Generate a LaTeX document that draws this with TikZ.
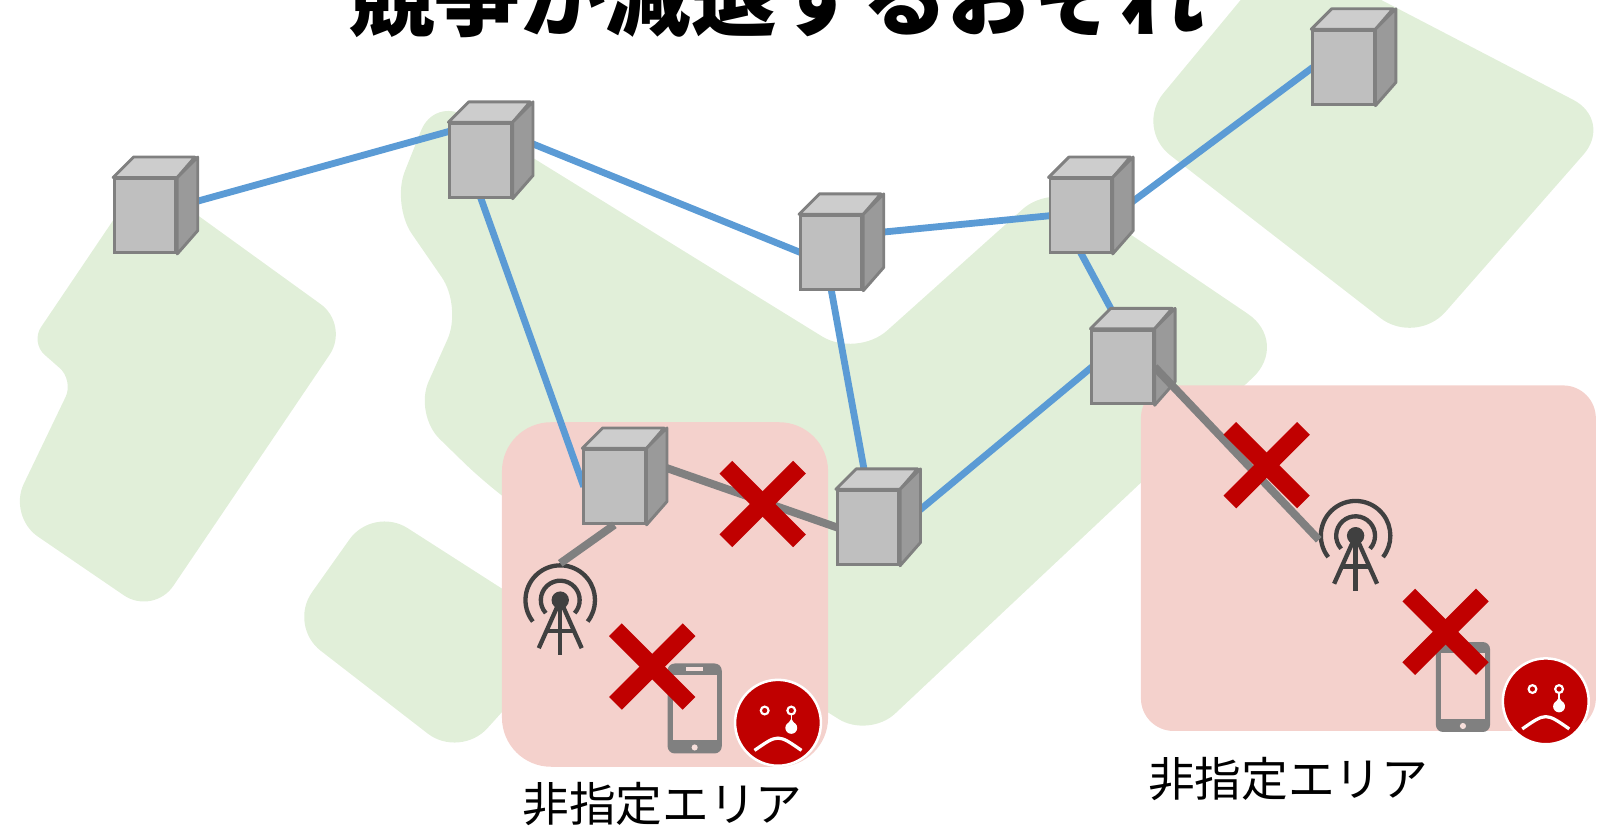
\documentclass[tikz,border=0pt]{standalone}
\usepackage{fontspec}
\newfontfamily\jpfont{Noto Sans CJK JP}
\usetikzlibrary{calc}

\definecolor{landgreen}{HTML}{E1EFD9}
\definecolor{areapink}{HTML}{F4D1CC}
\definecolor{fiberblue}{HTML}{5B9BD5}
\definecolor{lostred}{HTML}{C00000}
\definecolor{wiregray}{HTML}{808080}
\definecolor{icongray}{HTML}{404040}
\definecolor{cubefront}{HTML}{BFBFBF}
\definecolor{cubetop}{HTML}{CDCDCD}
\definecolor{cubeside}{HTML}{9A9A9A}

% relay station drawn as a small box
\newcommand{\station}[2]{%
  \node[stface] (#1) at (#2) {};
  \filldraw[sttop] (#1.north west) -- ++(20,-20) -- ++(60,0) -- (#1.north east) -- cycle;
  \filldraw[stside] (#1.north east) -- ++(20,-20) -- ++(0,72) -- (#1.south east) -- cycle;
}
% base station mast
\newcommand{\tower}[2]{%
  \coordinate (#1) at (#2);
  \draw[mast] ([shift={(138:19)}]#1) arc[start angle=138, end angle=402, radius=19];
  \draw[mast] ([shift={(142:34)}]#1) arc[start angle=142, end angle=398, radius=34];
  \draw[mast] (#1) -- ++(0,54);
  \draw[mast] ($(#1)+(-21,47)$) -- (#1) -- ($(#1)+(21,47)$);
  \draw[mast] ($(#1)+(-13,30)$) -- ($(#1)+(13,30)$);
  \fill[icongray] (#1) circle[radius=8.5];
}
% handset
\newcommand{\handset}[2]{%
  \node[phone] (#1) at (#2) {};
  \fill[areapink] ($(#1.north west)+(5,11)$) rectangle ($(#1.south east)+(-5,-13)$);
  \fill[areapink!70!white] ($(#1.north)+(-8,4)$) rectangle ($(#1.north)+(8,7)$);
  \fill[areapink!70!white] ($(#1.south)+(0,-6)$) circle[radius=3];
}
% red cross
\newcommand{\nogo}[2]{%
  \coordinate (#1) at (#2);
  \draw[xmark] ($(#1)+(-36,-36)$) -- ($(#1)+(36,36)$);
  \draw[xmark] ($(#1)+(-36,36)$) -- ($(#1)+(36,-36)$);
}
% crying face
\newcommand{\sadface}[2]{%
  \node[face] (#1) at (#2) {};
  \filldraw[eye] ($(#1)+(-13,-12)$) circle[radius=3.8];
  \filldraw[eye] ($(#1)+(13,-12)$) circle[radius=3.8];
  \draw[white, line width=2pt] ($(#1)+(13,-8)$) -- ($(#1)+(13,-2)$);
  \fill[white] ($(#1)+(13,-4)$) -- ($(#1)+(8,3.5)$) -- ($(#1)+(18,3.5)$) -- cycle;
  \fill[white] ($(#1)+(13,5)$) circle[radius=5.8];
  \draw[white, line width=4.5pt] ($(#1)+(-23,27)$) .. controls ($(#1)+(0,11)$) .. ($(#1)+(23,27)$);
}

\begin{document}
\begin{tikzpicture}
[
    x=0.05cm, y=-0.05cm,
    stface/.style={rectangle, draw=wiregray, fill=cubefront, line width=4pt,
                   minimum width=3cm, minimum height=3.6cm, inner sep=0pt},
    sttop/.style={draw=wiregray, fill=cubetop, line width=4pt, line join=round},
    stside/.style={draw=wiregray, fill=cubeside, line width=4pt, line join=round},
    fiber/.style={draw=fiberblue, line width=9.5pt},
    link/.style={draw=wiregray, line width=11pt},
    mast/.style={draw=icongray, line width=6pt},
    phone/.style={rectangle, fill=wiregray, rounded corners=0.35cm,
                  minimum width=2.65cm, minimum height=4.4cm, inner sep=0pt},
    xmark/.style={draw=lostred, line width=25pt},
    face/.style={circle, fill=lostred, draw=white, line width=3.5pt,
                 minimum size=4.2cm, inner sep=0pt},
    eye/.style={fill=lostred, draw=white, line width=3pt},
    label/.style={font=\jpfont\fontsize{65}{66}\selectfont, anchor=base},
]
\clip (0,0) rectangle (1568,808);

% land
\fill[landgreen, rounded corners=1.75cm] (140,172) -- (342,318) -- (150,602) -- (8,505)
    [rounded corners=0.9cm] -- (72,372) -- (30,335) -- cycle;
\fill[landgreen, rounded corners=2cm] (425,95) -- (838,350) -- (1030,178)
    [rounded corners=2.5cm] -- (1262,335) [rounded corners=1.75cm] -- (850,722)
    -- (640,590) -- (480,478) -- (405,405) -- (452,300) -- (383,200) -- cycle;
\fill[landgreen, rounded corners=2.2cm] (1255,-50) -- (1578,118) -- (1385,338) -- (1110,125) -- cycle;
\fill[landgreen, rounded corners=2cm] (365,495) -- (560,620) -- (450,742) -- (282,612) -- cycle;

% undesignated areas
\fill[areapink, rounded corners=2.4cm] (491,413) rectangle (810,750);
\fill[areapink, rounded corners=1.6cm] (1116,377) rectangle (1561,715);

\coordinate (A) at (142,211);
\coordinate (B) at (470,157);
\coordinate (C) at (813,247);
\coordinate (D) at (1057,211);
\coordinate (E) at (1314,66);
\coordinate (F) at (1098,359);
\coordinate (G) at (601,476);
\coordinate (H) at (849,516);

% backbone
\path[fiber] (A) -- (470,120) -- (783,247);
\path[fiber] (470,193) -- (571,476);
\path[fiber] (813,232) -- (1027,211);
\path[fiber] (1057,235) -- (1284,66);
\path[fiber] (813,283) -- (849,480);
\path[fiber] (1057,247) -- (1098,323);
\path[fiber] (1068,359) -- (849,541);
\path[link] (601,440) -- (819,516);

\station{sA}{A}
\station{sB}{B}
\station{sC}{C}
\station{sD}{D}
\station{sE}{E}
\station{sF}{F}
\station{sG}{G}
\station{sH}{H}

\tower{ant1}{548,587}
\tower{ant2}{1326,524}
\path[link] (sG.south) -- ($(ant1)+(0,-36)$);
\path[link] (sF.east) -- ($(ant2)+(-36,4)$);

\handset{ph1}{679.5,693}
\handset{ph2}{1431,672}

\nogo{x1}{746,493}
\nogo{x2}{638,652}
\nogo{x3}{1239,455}
\nogo{x4}{1414,618}

\sadface{f1}{761,707}
\sadface{f2}{1512,686}

\node[label] (lbl1) at (648,804) {非指定エリア};
\node[label] (lbl2) at (1260,779) {非指定エリア};
\node[anchor=base, font=\jpfont\bfseries\fontsize{119}{120}\selectfont] (title) at (760,29) {競争が減退するおそれ};
\end{tikzpicture}
\end{document}
